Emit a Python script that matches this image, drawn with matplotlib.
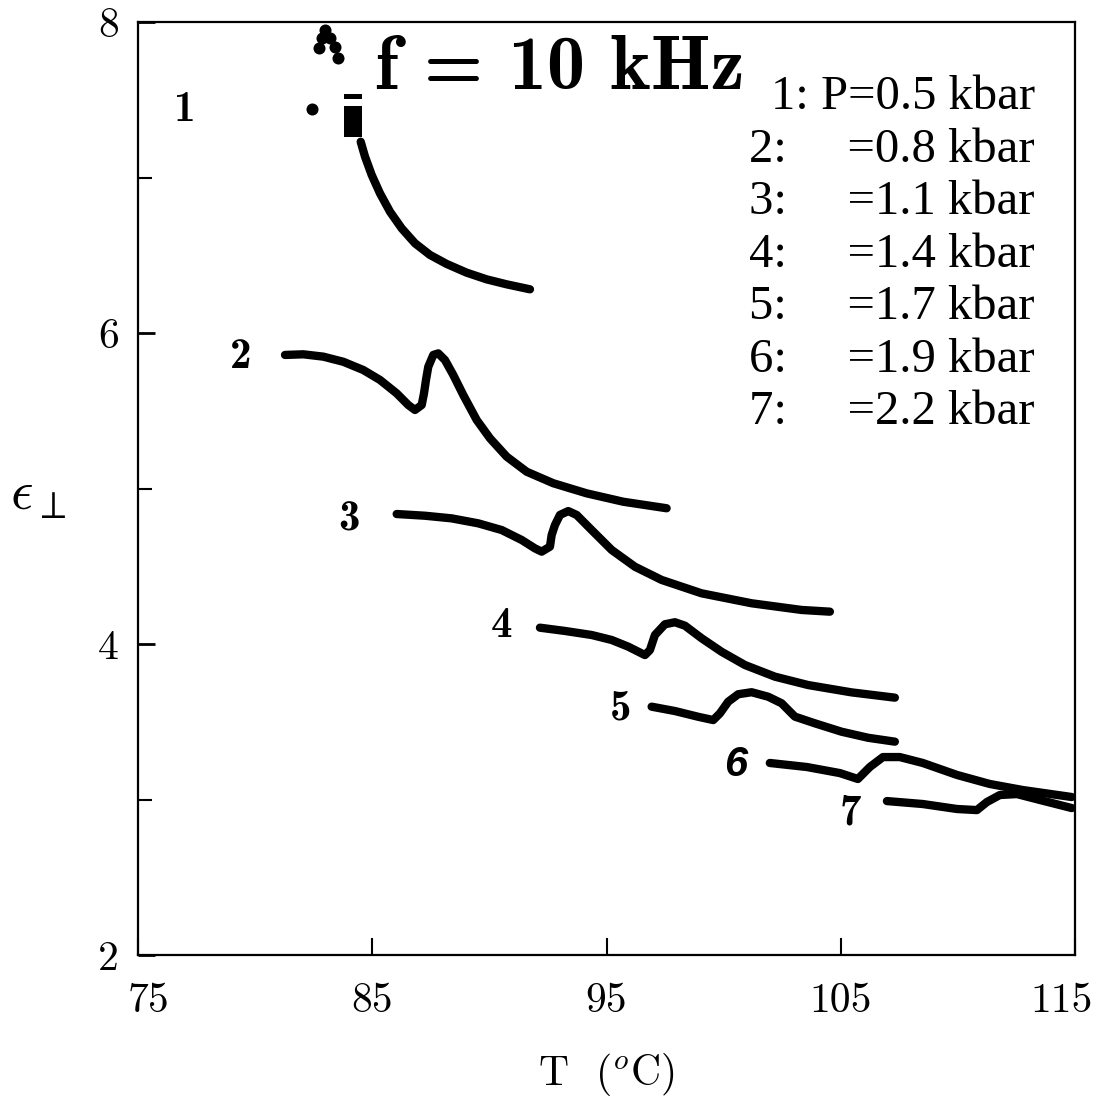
import matplotlib
matplotlib.use("Agg")
import matplotlib.pyplot as plt
from matplotlib.transforms import ScaledTranslation

# Dielectric constant vs temperature at f = 10 kHz for several pressures
t1 = [84.505, 84.689, 84.975, 85.329, 85.756, 86.255, 86.823, 87.463, 88.176,
      89.029, 89.883, 90.737, 91.731]
e1 = [7.230, 7.134, 7.016, 6.898, 6.780, 6.673, 6.577, 6.502, 6.444,
      6.388, 6.345, 6.313, 6.281]

t2 = [81.274, 82.055, 82.909, 83.762, 84.616, 85.329, 86.041, 86.536, 86.823,
      87.109, 87.207, 87.292, 87.390, 87.604, 87.817, 88.103, 88.457, 88.884,
      89.456, 90.023, 90.737, 91.590, 92.725, 94.151, 95.712, 97.565]
e2 = [5.859, 5.863, 5.848, 5.815, 5.762, 5.698, 5.612, 5.537, 5.505,
      5.537, 5.612, 5.698, 5.783, 5.859, 5.869, 5.826, 5.730, 5.601,
      5.441, 5.323, 5.205, 5.108, 5.034, 4.969, 4.915, 4.873]

t3 = [86.041, 87.249, 88.389, 89.524, 90.523, 91.377, 91.944, 92.230, 92.584,
      92.657, 92.798, 93.011, 93.365, 93.724, 94.364, 95.218, 96.212, 97.352,
      99.059, 101.193, 103.327, 104.535]
e3 = [4.836, 4.825, 4.808, 4.776, 4.733, 4.669, 4.615, 4.594, 4.626,
      4.701, 4.765, 4.830, 4.855, 4.830, 4.733, 4.605, 4.497, 4.412,
      4.326, 4.262, 4.219, 4.208]

t4 = [92.157, 93.224, 94.364, 95.218, 95.926, 96.639, 96.852, 97.066, 97.493,
      97.919, 98.346, 99.059, 99.913, 100.908, 102.188, 103.609, 105.461,
      107.309]
e4 = [4.105, 4.084, 4.058, 4.026, 3.983, 3.929, 3.961, 4.058, 4.127,
      4.140, 4.118, 4.037, 3.950, 3.865, 3.790, 3.736, 3.689, 3.655]

t5 = [96.925, 97.919, 98.914, 99.554, 99.840, 100.194, 100.621, 101.193,
      101.902, 102.473, 102.828, 103.041, 103.895, 105.034, 106.169, 107.309]
e5 = [3.597, 3.569, 3.532, 3.511, 3.554, 3.629, 3.677, 3.690,
      3.661, 3.619, 3.565, 3.533, 3.490, 3.436, 3.397, 3.372]

t6 = [101.97, 103.55, 104.96, 105.73, 106.24, 106.80, 107.52, 108.50, 109.96,
      111.36, 112.77, 114.86]
e6 = [3.235, 3.209, 3.170, 3.132, 3.209, 3.273, 3.273, 3.235, 3.158,
      3.100, 3.061, 3.016]

t7 = [106.97, 108.50, 109.96, 110.81, 111.24, 111.79, 112.52, 113.50, 114.86]
e7 = [2.990, 2.971, 2.939, 2.932, 2.984, 3.029, 3.035, 2.997, 2.945]

# off-scale readings of curve 1 near the top of the frame
t1_off = [82.73, 82.85, 82.98, 83.19, 83.41, 83.54, 82.43]
e1_off = [7.833, 7.90, 7.949, 7.897, 7.839, 7.768, 7.441]
t1_bar = [83.79, 84.56]
e1_dash = [7.505, 7.537]
e1_block = [7.260, 7.460]

curve_labels = ["1", "2", "3", "4", "5", "6", "7"]
label_t = [77.0, 79.4, 84.0, 90.5, 95.6, 100.5, 105.4]
label_e = [7.43, 5.84, 4.80, 4.11, 3.58, 3.22, 2.91]

legend_lines = ["1: P=0.5 kbar", "2:     =0.8 kbar", "3:     =1.1 kbar",
                "4:     =1.4 kbar", "5:     =1.7 kbar", "6:     =1.9 kbar",
                "7:     =2.2 kbar"]

xticks = [75, 85, 95, 105, 115]
yticks_major = [2, 4, 6, 8]
yticks_minor = [3, 5, 7]

plt.rcParams["mathtext.fontset"] = "cm"

fig = plt.figure(figsize=(11, 11), dpi=100)
ax = fig.add_axes([0.1255, 0.1318, 0.8518, 0.8482])

lw = 6.0
for t, e in [(t1, e1), (t2, e2), (t3, e3), (t4, e4), (t5, e5), (t6, e6), (t7, e7)]:
    ax.plot(t, e, color="black", lw=lw, solid_capstyle="round",
            solid_joinstyle="round")

ax.scatter(t1_off, e1_off, s=75, color="black", lw=0)
ax.fill_between(t1_bar, e1_dash[0], e1_dash[1], color="black", lw=0)
ax.fill_between(t1_bar, e1_block[0], e1_block[1], color="black", lw=0)

for lab, x, y in zip(curve_labels, label_t, label_e):
    if lab == "6":
        ax.text(x, y, lab, fontsize=30, fontweight="bold", fontstyle="italic",
                family="Liberation Sans", ha="center", va="center")
    else:
        ax.text(x, y, lab, fontsize=31, family="cmb10", ha="center", va="center")

ax.text(0.253, 0.949, "f = 10 kHz", transform=ax.transAxes, family="cmb10",
        fontsize=55, ha="left", va="center")

y0 = 0.9196
for i, line in enumerate(legend_lines):
    ax.text(0.957, y0 - i * 0.0563, line, transform=ax.transAxes,
            family="Liberation Serif", fontsize=35, ha="right", va="center")

ax.set_xlim(75, 115)
ax.set_ylim(2, 8)
ax.set_xticks(xticks)
ax.set_xticklabels([str(v) for v in xticks], family="cmr10", fontsize=30)
ax.set_yticks(yticks_major)
ax.set_yticklabels([str(v) for v in yticks_major], family="cmr10", fontsize=30)
ax.set_yticks(yticks_minor, minor=True)
ax.tick_params(axis="x", which="major", direction="in", length=12, width=1.5,
               pad=20)
ax.tick_params(axis="y", which="major", direction="in", length=12, width=2,
               pad=14)
ax.tick_params(axis="y", which="minor", direction="in", length=10, width=1.5)
for s in ax.spines.values():
    s.set_linewidth(1.6)

# nudge the outermost x labels inward
xl = ax.get_xticklabels()
xl[0].set_transform(xl[0].get_transform() + ScaledTranslation(0.1, 0, fig.dpi_scale_trans))
xl[-1].set_transform(xl[-1].get_transform() + ScaledTranslation(-0.13, 0, fig.dpi_scale_trans))

ax.set_xlabel(r"T  ($^o$C)", family="cmr10", fontsize=30, labelpad=22)
fig.text(0.035, 0.55, r"$\epsilon_\perp$", fontsize=40, ha="center", va="center")

fig.savefig("out.png", dpi=100, facecolor="white")
